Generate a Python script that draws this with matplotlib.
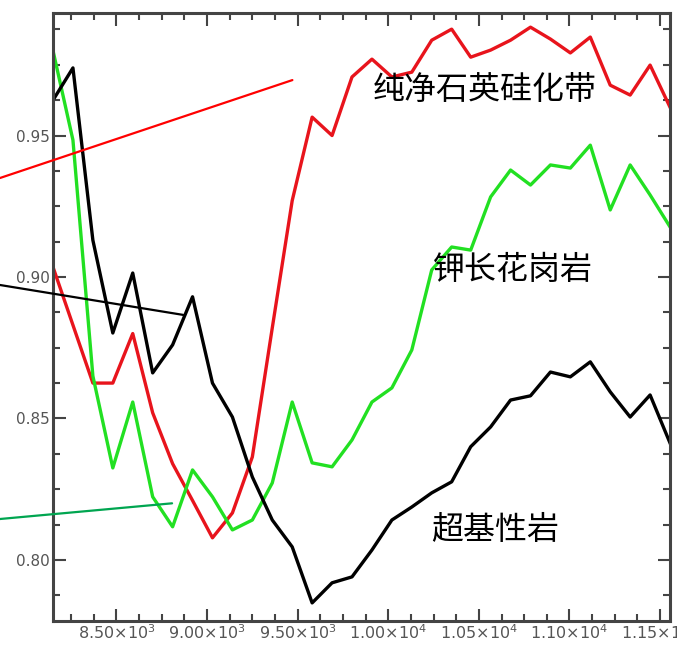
import matplotlib.pyplot as plt
from matplotlib.ticker import MultipleLocator, FixedLocator

plt.rcParams['font.family'] = ['Noto Sans CJK SC', 'DejaVu Sans']

# 横轴波长（样点）
wavelength = [8150, 8260, 8370, 8480, 8590, 8700, 8810, 8920, 9030, 9140,
              9250, 9360, 9470, 9580, 9690, 9800, 9910, 10020, 10130, 10240,
              10350, 10455, 10565, 10675, 10785, 10895, 11005, 11115, 11225,
              11335, 11445, 11555]

quartz = [0.9035, 0.883, 0.8625, 0.8625, 0.880, 0.852, 0.834, 0.821, 0.8078,
          0.8166, 0.8364, 0.882, 0.927, 0.9565, 0.950, 0.9707, 0.977, 0.9707,
          0.9724, 0.9837, 0.9876, 0.9777, 0.9802, 0.9837, 0.9883, 0.9841,
          0.9792, 0.9848, 0.9678, 0.9643, 0.9749, 0.960]

granite = [0.980, 0.9484, 0.865, 0.8325, 0.8558, 0.8223, 0.8117, 0.8318,
           0.8223, 0.8106, 0.8141, 0.8272, 0.8558, 0.8343, 0.8329, 0.8424,
           0.8558, 0.8608, 0.8742, 0.9025, 0.9106, 0.9095, 0.9283, 0.9378,
           0.9325, 0.9396, 0.9385, 0.9466, 0.9237, 0.9396, 0.929, 0.9177]

ultramafic = [0.9625, 0.9739, 0.913, 0.8802, 0.9014, 0.8661, 0.876, 0.893,
              0.8625, 0.8505, 0.8293, 0.8141, 0.8046, 0.7848, 0.7919, 0.794,
              0.8035, 0.8141, 0.8187, 0.8237, 0.8276, 0.840, 0.847, 0.8565,
              0.858, 0.8664, 0.8647, 0.870, 0.8594, 0.8505, 0.8583, 0.8413]

x_ticks = [8500, 9000, 9500, 10000, 10500, 11000, 11500]
x_labels = [r'8.50$\times$10$^3$', r'9.00$\times$10$^3$', r'9.50$\times$10$^3$',
            r'1.00$\times$10$^4$', r'1.05$\times$10$^4$', r'1.10$\times$10$^4$',
            r'1.15$\times$10$^4$']
y_ticks = [0.80, 0.85, 0.90, 0.95]
y_labels = ['0.80', '0.85', '0.90', '0.95']

fig = plt.figure(figsize=(6.77, 6.45), dpi=100)
ax = fig.add_axes([0.0783, 0.0372, 0.9114, 0.9426])

ax.plot(wavelength, quartz, color='#e8141c', lw=2.4)
ax.plot(wavelength, granite, color='#22e022', lw=2.4)
ax.plot(wavelength, ultramafic, color='black', lw=2.4)

ax.set_xlim(8150, 11555)
ax.set_ylim(0.7784, 0.9933)

ax.xaxis.set_major_locator(FixedLocator(x_ticks))
ax.xaxis.set_minor_locator(MultipleLocator(125))
ax.yaxis.set_major_locator(FixedLocator(y_ticks))
ax.yaxis.set_minor_locator(MultipleLocator(0.0125))
ax.set_xticklabels(x_labels, family='DejaVu Sans', fontsize=11.5, color='#555555')
ax.set_yticklabels(y_labels, family='DejaVu Sans', fontsize=11, color='#555555')

ax.tick_params(which='both', direction='in', top=True, right=True,
               color='#444444', width=1.5)
ax.tick_params(which='major', length=9, pad=2)
ax.tick_params(which='minor', length=5)
for s in ax.spines.values():
    s.set_color('#444444')
    s.set_linewidth(2.2)

ax.text(10535, 0.966, '纯净石英硅化带', fontsize=23, ha='center', va='center')
ax.text(10690, 0.9025, '钾长花岗岩', fontsize=23, ha='center', va='center')
ax.text(10590, 0.8106, '超基性岩', fontsize=23, ha='center', va='center')

# 指向图外标注的引线
ax.annotate('', xy=(9471, 0.9696), xytext=(0.0, 1 - 178 / 645),
            textcoords='figure fraction',
            arrowprops=dict(arrowstyle='-', color='#ff0000', lw=1.6,
                            shrinkA=0, shrinkB=0), annotation_clip=False)
ax.annotate('', xy=(8868, 0.8866), xytext=(0.0, 1 - 285 / 645),
            textcoords='figure fraction',
            arrowprops=dict(arrowstyle='-', color='black', lw=1.6,
                            shrinkA=0, shrinkB=0), annotation_clip=False)
ax.annotate('', xy=(8807, 0.8200), xytext=(0.0, 1 - 519 / 645),
            textcoords='figure fraction',
            arrowprops=dict(arrowstyle='-', color='#00a550', lw=1.6,
                            shrinkA=0, shrinkB=0), annotation_clip=False)

fig.savefig('out.png', dpi=100)
